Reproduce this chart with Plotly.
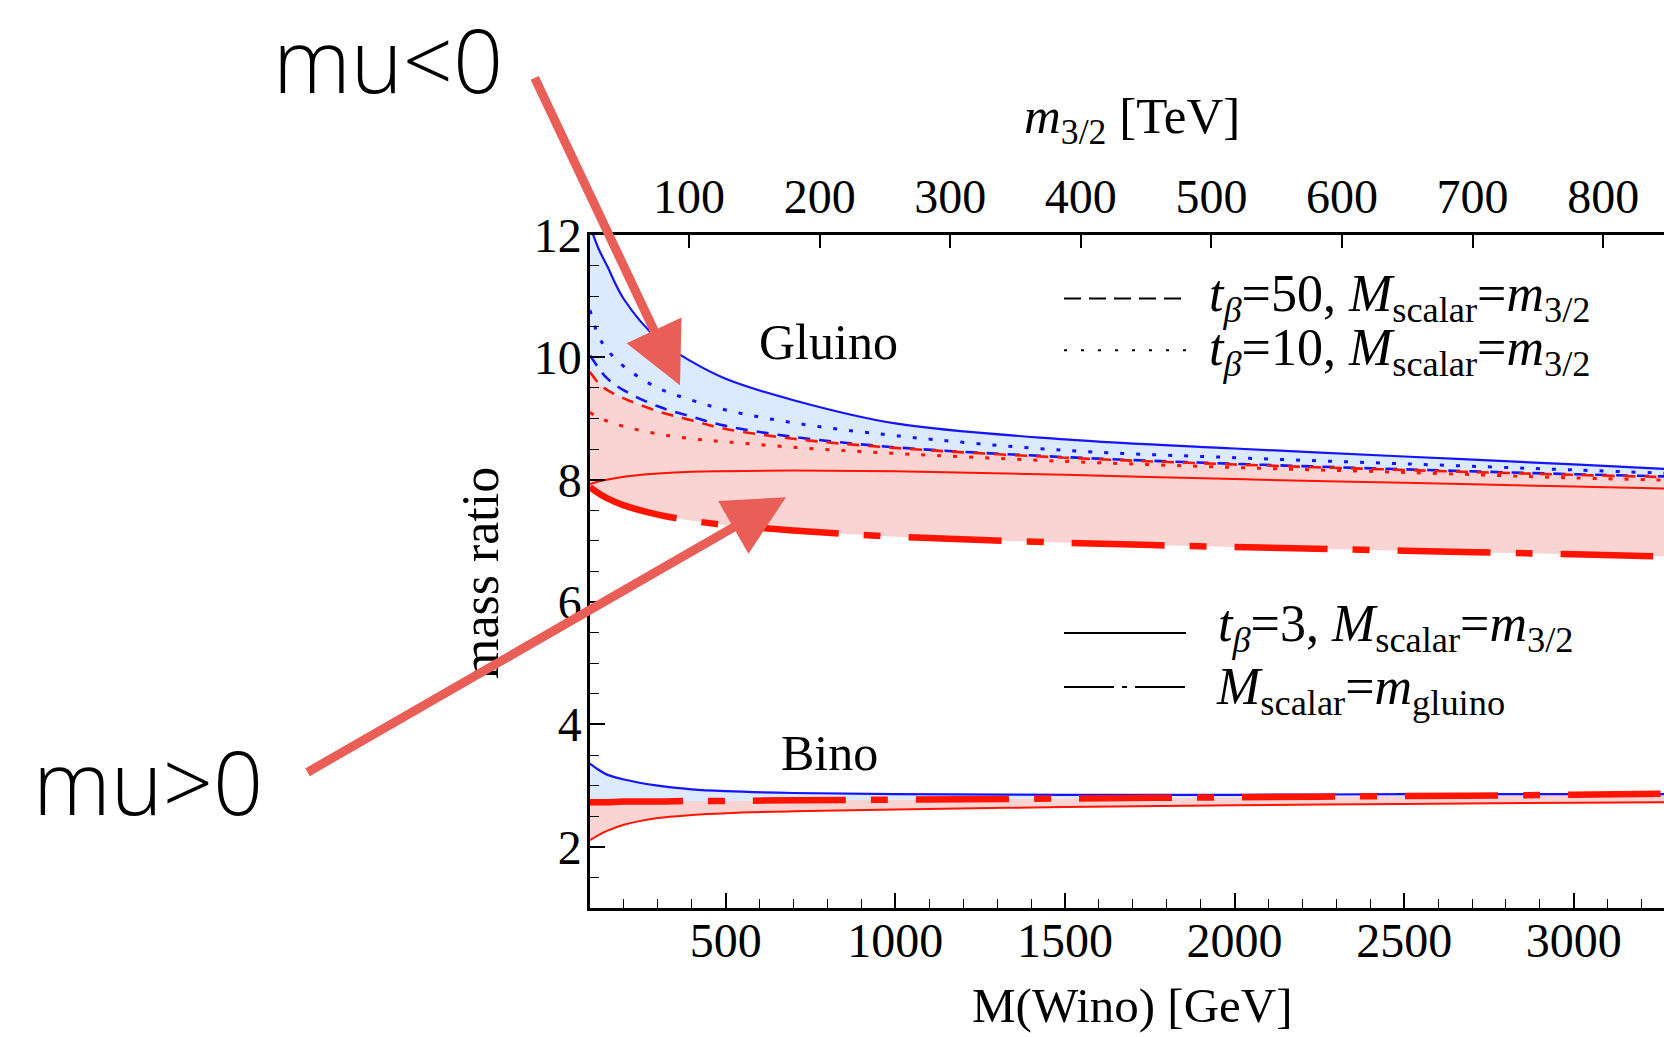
import plotly.graph_objects as go

# ---------------- data ----------------
wino = [100, 125, 150, 200, 300, 400, 500, 700, 1000, 1500, 2000, 2500, 3000, 3300]

# Gluino / Wino mass ratio
glu_neg_tb3 = [12.15, 11.78, 11.5, 10.95, 10.3, 9.93, 9.65, 9.3, 8.92, 8.66, 8.51, 8.38, 8.25, 8.17]
glu_neg_tb10 = [10.77, 10.35, 10.13, 9.85, 9.5, 9.3, 9.14, 8.93, 8.72, 8.48, 8.36, 8.26, 8.16, 8.1]
glu_neg_tb50 = [10.03, 9.83, 9.66, 9.46, 9.2, 9.03, 8.88, 8.7, 8.53, 8.37, 8.26, 8.17, 8.09, 8.05]
glu_pos_tb50 = [9.76, 9.58, 9.47, 9.33, 9.12, 8.97, 8.83, 8.67, 8.52, 8.36, 8.25, 8.16, 8.08, 8.04]
glu_pos_tb10 = [9.10, 9.02, 8.96, 8.87, 8.75, 8.67, 8.62, 8.53, 8.43, 8.30, 8.2, 8.12, 8.03, 7.99]
glu_pos_tb3 = [7.93, 7.97, 8.0, 8.05, 8.1, 8.13, 8.14, 8.15, 8.14, 8.08, 8.01, 7.95, 7.89, 7.85]
glu_heavy = [7.88, 7.78, 7.7, 7.58, 7.43, 7.33, 7.26, 7.17, 7.07, 6.97, 6.9, 6.84, 6.78, 6.74]

# Bino / Wino mass ratio
bino_neg_tb3 = [3.36, 3.26, 3.18, 3.1, 3.0, 2.94, 2.91, 2.88, 2.86, 2.85, 2.85, 2.86, 2.86, 2.86]
bino_heavy = [2.73, 2.73, 2.73, 2.74, 2.74, 2.75, 2.75, 2.76, 2.77, 2.79, 2.81, 2.83, 2.85, 2.87]
bino_pos_tb3 = [2.11, 2.19, 2.26, 2.36, 2.47, 2.52, 2.55, 2.58, 2.61, 2.65, 2.68, 2.70, 2.72, 2.73]

x_ticks = [500, 1000, 1500, 2000, 2500, 3000]
x_range = [100, 3266]
top_ticks = [100, 200, 300, 400, 500, 600, 700, 800]
top_range = [24.1, 846.6]
y_ticks = [2, 4, 6, 8, 10, 12]
y_range = [1, 12]

# ---------------- styles ----------------
BLUE = "#1414ff"
RED = "#ff1400"
BLUE_FILL = "#dbeaff"
RED_FILL = "#fad3d3"
SERIF = "Liberation Serif, Times New Roman, serif"
SANS = "Open Sans, Lato, sans-serif"
DASH = "12px,9px"
DOT = "4px,12px"
DASHDOT = "93px,25px,17px,28px"

fig = go.Figure()


def band(lower, upper, color):
    fig.add_trace(go.Scatter(x=wino, y=lower, mode="lines", line=dict(width=0, shape="spline"),
                             hoverinfo="skip", showlegend=False))
    fig.add_trace(go.Scatter(x=wino, y=upper, mode="lines", line=dict(width=0, shape="spline"),
                             fill="tonexty", fillcolor=color, hoverinfo="skip", showlegend=False))


def curve(y, color, width, dash="solid"):
    fig.add_trace(go.Scatter(x=wino, y=y, mode="lines",
                             line=dict(color=color, width=width, dash=dash, shape="spline"),
                             hoverinfo="skip", showlegend=False))


# fills
band(glu_pos_tb50, glu_neg_tb3, BLUE_FILL)
band(glu_heavy, glu_pos_tb50, RED_FILL)
band(bino_heavy, bino_neg_tb3, BLUE_FILL)
band(bino_pos_tb3, bino_heavy, RED_FILL)

# lines
curve(glu_neg_tb3, BLUE, 2.2)
curve(glu_neg_tb10, BLUE, 3, DOT)
curve(glu_neg_tb50, BLUE, 2.6, DASH)
curve(glu_pos_tb50, RED, 2.6, DASH)
curve(glu_pos_tb10, RED, 3, DOT)
curve(glu_pos_tb3, RED, 2)
curve(glu_heavy, RED, 6.5, DASHDOT)
curve(bino_neg_tb3, BLUE, 2.2)
curve(bino_pos_tb3, RED, 2)
curve(bino_heavy, RED, 6.5, DASHDOT)

# dummy trace for the top axis
fig.add_trace(go.Scatter(x=[None], y=[None], xaxis="x2", yaxis="y", mode="lines",
                         hoverinfo="skip", showlegend=False))

tickfont = dict(family=SERIF, size=48, color="black")

fig.update_layout(
    width=1664, height=1037,
    margin=dict(l=590, r=0, t=234.5, b=128.6, pad=0),
    paper_bgcolor="white", plot_bgcolor="white",
    showlegend=False,
    xaxis=dict(range=x_range, tickvals=x_ticks, ticks="inside", ticklen=15, tickwidth=1.6,
               tickcolor="black", showline=True, linecolor="black", linewidth=3,
               showgrid=False, zeroline=False, tickfont=tickfont, ticklabelstandoff=-12,
               minor=dict(dtick=100, tick0=0, ticks="inside", ticklen=9, tickwidth=1.4,
                          tickcolor="black", showgrid=False)),
    xaxis2=dict(range=top_range, tickvals=top_ticks, overlaying="x", side="top", anchor="y",
                ticks="inside", ticklen=13, tickwidth=1.6, tickcolor="black",
                showline=True, linecolor="black", linewidth=2.5, showgrid=False,
                zeroline=False, tickfont=tickfont, ticklabelstandoff=0),
    yaxis=dict(range=y_range, tickvals=y_ticks, ticks="inside", ticklen=15, tickwidth=1.6,
               tickcolor="black", showline=True, linecolor="black", linewidth=2.5,
               showgrid=False, zeroline=False, tickfont=tickfont, ticklabelstandoff=-4,
               minor=dict(dtick=0.5, tick0=0, ticks="inside", ticklen=9, tickwidth=1.4,
                          tickcolor="black", showgrid=False)),
)


# helpers to convert page pixels to paper coordinates
PL, PR, PT, PB = 590, 1664, 234.5, 908.4


def px(x):
    return (x - PL) / (PR - PL)


def py(y):
    return (PB - y) / (PB - PT)


ann = []


def text(x, y, s, size=48, xanchor="center", family=SERIF, angle=0, weight=None):
    f = dict(family=family, size=size, color="black")
    if weight is not None:
        f["weight"] = weight
    ann.append(dict(x=px(x), y=py(y), xref="paper", yref="paper", text=s, showarrow=False,
                    xanchor=xanchor, yanchor="middle", font=f, textangle=angle))


text(1132, 119, "<i>m</i><sub>3/2</sub> [TeV]", size=51)
text(1132, 1006, "M(Wino) [GeV]", size=49)
text(480, 573, "mass ratio", size=52, angle=-90)
text(828, 342, "Gluino", size=50)
text(829, 753, "Bino", size=50)

LEG = 52
text(1207, 297, "<i>t</i><sub><i>β</i></sub>=50, <i>M</i><sub>scalar</sub>=<i>m</i><sub>3/2</sub>", size=LEG, xanchor="left")
text(1207, 351, "<i>t</i><sub><i>β</i></sub>=10, <i>M</i><sub>scalar</sub>=<i>m</i><sub>3/2</sub>", size=LEG, xanchor="left")
text(1216, 628, "<i>t</i><sub><i>β</i></sub>=3, <i>M</i><sub>scalar</sub>=<i>m</i><sub>3/2</sub>", size=LEG, xanchor="left")
text(1214, 691, "<i>M</i><sub>scalar</sub>=<i>m</i><sub>gluino</sub>", size=LEG, xanchor="left")

text(388, 58, "mu&lt;0", size=88, family=SANS, weight=300)
text(148, 781, "mu&gt;0", size=88, family=SANS, weight=300)

ARROW = "#ea5e58"
ann.append(dict(x=px(680), y=py(385), xref="paper", yref="paper", ax=534 - 680, ay=76 - 385,
                axref="pixel", ayref="pixel", text="", showarrow=True, arrowhead=2,
                arrowsize=1.35, arrowwidth=9, arrowcolor=ARROW, standoff=0))
ann.append(dict(x=px(786), y=py(497), xref="paper", yref="paper", ax=306 - 786, ay=773 - 497,
                axref="pixel", ayref="pixel", text="", showarrow=True, arrowhead=2,
                arrowsize=1.35, arrowwidth=9, arrowcolor=ARROW, standoff=0))

fig.update_layout(annotations=ann)

# legend line samples
shapes = []


def sample(y, dash):
    shapes.append(dict(type="line", xref="paper", yref="paper", x0=px(1064), x1=px(1186),
                       y0=py(y), y1=py(y), line=dict(color="black", width=2, dash=dash)))


sample(298, "17px,8px")
sample(350, "3px,14px")
sample(633, "solid")
sample(687, "50px,8px,5px,8px")
fig.update_layout(shapes=shapes)

fig.write_html("out.html")
